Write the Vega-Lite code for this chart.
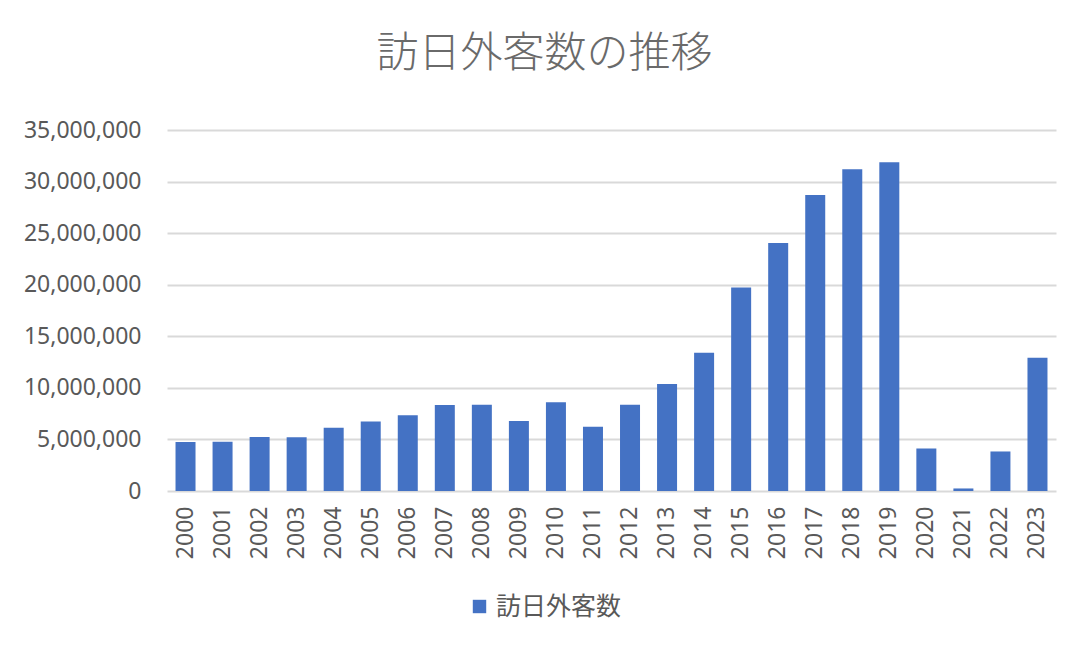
{
  "$schema": "https://vega.github.io/schema/vega-lite/v6.json",
  "autosize": {"type": "none"},
  "width": 889,
  "height": 361,
  "padding": {"left": 167, "top": 130, "right": 32, "bottom": 161},
  "background": "white",
  "title": {
    "text": "訪日外客数の推移",
    "anchor": "middle",
    "frame": "group",
    "dx": -67,
    "offset": 43,
    "font": "Noto Sans CJK JP",
    "fontSize": 42,
    "fontWeight": 300,
    "color": "#6a6a6a"
  },
  "config": {
    "view": {"stroke": null},
    "axis": {"labelFont": "Noto Sans", "labelColor": "#595959"},
    "legend": {"labelFont": "Noto Sans CJK JP"}
  },
  "data": {
    "values": [
      {"year": "2000", "visitors": 4757000, "series": "訪日外客数"},
      {"year": "2001", "visitors": 4772000, "series": "訪日外客数"},
      {"year": "2002", "visitors": 5239000, "series": "訪日外客数"},
      {"year": "2003", "visitors": 5212000, "series": "訪日外客数"},
      {"year": "2004", "visitors": 6138000, "series": "訪日外客数"},
      {"year": "2005", "visitors": 6728000, "series": "訪日外客数"},
      {"year": "2006", "visitors": 7334000, "series": "訪日外客数"},
      {"year": "2007", "visitors": 8347000, "series": "訪日外客数"},
      {"year": "2008", "visitors": 8351000, "series": "訪日外客数"},
      {"year": "2009", "visitors": 6790000, "series": "訪日外客数"},
      {"year": "2010", "visitors": 8611000, "series": "訪日外客数"},
      {"year": "2011", "visitors": 6219000, "series": "訪日外客数"},
      {"year": "2012", "visitors": 8358000, "series": "訪日外客数"},
      {"year": "2013", "visitors": 10364000, "series": "訪日外客数"},
      {"year": "2014", "visitors": 13413000, "series": "訪日外客数"},
      {"year": "2015", "visitors": 19737000, "series": "訪日外客数"},
      {"year": "2016", "visitors": 24040000, "series": "訪日外客数"},
      {"year": "2017", "visitors": 28691000, "series": "訪日外客数"},
      {"year": "2018", "visitors": 31192000, "series": "訪日外客数"},
      {"year": "2019", "visitors": 31882000, "series": "訪日外客数"},
      {"year": "2020", "visitors": 4116000, "series": "訪日外客数"},
      {"year": "2021", "visitors": 246000, "series": "訪日外客数"},
      {"year": "2022", "visitors": 3832000, "series": "訪日外客数"},
      {"year": "2023", "visitors": 12930000, "series": "訪日外客数"}
    ]
  },
  "mark": {"type": "bar"},
  "encoding": {
    "x": {
      "field": "year",
      "type": "nominal",
      "sort": null,
      "scale": {"paddingInner": 0.46, "paddingOuter": 0.23},
      "axis": {
        "title": null,
        "labelAngle": -90,
        "labelAlign": "right",
        "labelBaseline": "middle",
        "labelFontSize": 23,
        "labelPadding": 15,
        "domain": false,
        "ticks": false,
        "grid": false
      }
    },
    "y": {
      "field": "visitors",
      "type": "quantitative",
      "scale": {"domain": [0, 35000000]},
      "axis": {
        "title": null,
        "values": [0, 5000000, 10000000, 15000000, 20000000, 25000000, 30000000, 35000000],
        "format": ",d",
        "labelFontSize": 23,
        "labelPadding": 26,
        "domain": false,
        "ticks": false,
        "grid": true,
        "gridColor": "#d9d9d9",
        "gridWidth": 2
      }
    },
    "color": {
      "field": "series",
      "type": "nominal",
      "scale": {"range": ["#4472C4"]},
      "legend": {
        "title": null,
        "orient": "none",
        "legendX": 300,
        "legendY": 464,
        "symbolType": "square",
        "symbolSize": 180,
        "symbolStrokeWidth": 0,
        "labelFontSize": 25,
        "labelColor": "#595959",
        "labelOffset": 4
      }
    }
  }
}
